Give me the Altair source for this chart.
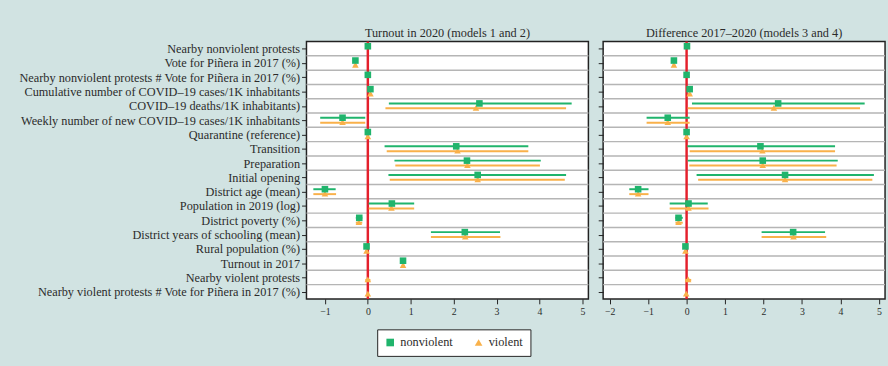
import json
import altair as alt
import pandas as pd

labels = [
    "Nearby nonviolent protests",
    "Vote for Piñera in 2017 (%)",
    "Nearby nonviolent protests # Vote for Piñera in 2017 (%)",
    "Cumulative number of COVID–19 cases/1K inhabitants",
    "COVID–19 deaths/1K inhabitants)",
    "Weekly number of new COVID–19 cases/1K inhabitants",
    "Quarantine (reference)",
    "Transition",
    "Preparation",
    "Initial opening",
    "District age (mean)",
    "Population in 2019 (log)",
    "District poverty (%)",
    "District years of schooling (mean)",
    "Rural population (%)",
    "Turnout in 2017",
    "Nearby violent protests",
    "Nearby violent protests # Vote for Piñera in 2017 (%)",
]

# Turnout in 2020 - nonviolent (model 1)
m1_est = [0.00, -0.29, 0.00, 0.06, 2.60, -0.59, 0.00, 2.06, 2.31, 2.56, -1.00, 0.56, -0.20, 2.26, -0.03, 0.82, None, None]
m1_lo = [-0.03, -0.33, -0.02, 0.02, 0.49, -1.11, 0.00, 0.39, 0.62, 0.48, -1.27, 0.02, -0.28, 1.47, -0.06, 0.79, None, None]
m1_hi = [0.03, -0.25, 0.02, 0.10, 4.75, -0.06, 0.00, 3.74, 4.03, 4.62, -0.75, 1.08, -0.13, 3.08, 0.00, 0.86, None, None]
# Turnout in 2020 - violent (model 2)
m2_est = [None, -0.29, None, 0.06, 2.52, -0.59, 0.00, 2.09, 2.32, 2.56, -1.00, 0.55, -0.21, 2.27, -0.03, 0.82, 0.00, 0.00]
m2_lo = [None, -0.33, None, 0.02, 0.41, -1.11, 0.00, 0.44, 0.64, 0.51, -1.27, 0.02, -0.28, 1.47, -0.06, 0.79, -0.06, -0.02]
m2_hi = [None, -0.25, None, 0.10, 4.62, -0.06, 0.00, 3.74, 4.01, 4.59, -0.74, 1.08, -0.13, 3.09, 0.00, 0.86, 0.06, 0.02]
# Difference 2017-2020 - nonviolent (model 3)
m3_est = [0.01, -0.33, 0.00, 0.08, 2.38, -0.49, 0.00, 1.92, 1.98, 2.56, -1.26, 0.05, -0.21, 2.77, -0.03, None, None, None]
m3_lo = [-0.02, -0.37, -0.02, 0.04, 0.14, -1.04, 0.00, 0.02, 0.03, 0.26, -1.49, -0.44, -0.29, 1.95, -0.06, None, None, None]
m3_hi = [0.04, -0.29, 0.02, 0.12, 4.63, 0.08, 0.00, 3.86, 3.93, 4.87, -0.99, 0.55, -0.10, 3.60, 0.00, None, None, None]
# Difference 2017-2020 - violent (model 4)
m4_est = [None, -0.33, None, 0.08, 2.27, -0.49, 0.00, 1.97, 1.98, 2.56, -1.26, 0.05, -0.21, 2.78, -0.03, None, 0.04, -0.01]
m4_lo = [None, -0.37, None, 0.04, 0.03, -1.04, 0.00, 0.08, 0.07, 0.30, -1.49, -0.44, -0.29, 1.95, -0.06, None, -0.04, -0.04]
m4_hi = [None, -0.29, None, 0.12, 4.51, 0.08, 0.00, 3.86, 3.90, 4.83, -0.99, 0.57, -0.10, 3.63, 0.00, None, 0.12, 0.02]

groups = ["nonviolent", "violent"]
colors = ["#20b46c", "#f9b14a"]
shapes = ["square", "triangle-up"]

FONT = "Liberation Serif"
TXT = "#2b2b2b"


def frame(est, lo, hi, group):
    rows = []
    for i, (e, l, h) in enumerate(zip(est, lo, hi)):
        if e is None:
            continue
        rows.append({"row": i + 1, "est": e, "lo": l, "hi": h, "group": group})
    return pd.DataFrame(rows)


grid_df = pd.DataFrame({"row": [i + 0.5 for i in range(1, len(labels))]})
zero_df = pd.DataFrame({"x": [0]})

label_expr = "[" + ",".join(json.dumps(l) for l in labels) + "][datum.value - 1]"

color_scale = alt.Scale(domain=groups, range=colors)
shape_scale = alt.Scale(domain=groups, range=shapes)


def panel(title, nv, vi, domain, ticks, show_labels):
    xs = alt.Scale(domain=domain, nice=False, zero=False)
    ys = alt.Scale(domain=[0.5, len(labels) + 0.5], reverse=True, nice=False, zero=False)
    yaxis = alt.Axis(
        values=list(range(1, len(labels) + 1)),
        labelExpr=label_expr,
        labels=show_labels,
        labelOverlap=False,
        title=None,
        grid=False,
        domain=False,
        tickSize=5,
        tickColor="#222",
        labelFont=FONT,
        labelFontSize=12.5,
        labelColor=TXT,
        labelPadding=2,
        labelLimit=400,
    )
    xaxis = alt.Axis(
        values=ticks,
        format="d",
        title=None,
        grid=False,
        domain=False,
        tickSize=5,
        tickColor="#222",
        labelFont=FONT,
        labelFontSize=10,
        labelColor=TXT,
        labelPadding=3,
    )
    Y = alt.Y("row:Q", scale=ys, axis=yaxis)
    grid = alt.Chart(grid_df).mark_rule(color="#b5b5b5", strokeWidth=1.5).encode(y=Y)
    zero = alt.Chart(zero_df).mark_rule(color="#e4202c", strokeWidth=2.5).encode(
        x=alt.X("x:Q", scale=xs, axis=xaxis)
    )
    ci_nv = alt.Chart(nv).mark_rule(color=colors[0], strokeWidth=2, yOffset=-2.5).encode(
        x=alt.X("lo:Q", scale=xs, axis=xaxis), x2="hi:Q", y=Y
    )
    ci_vi = alt.Chart(vi).mark_rule(color=colors[1], strokeWidth=2, yOffset=2.5).encode(
        x=alt.X("lo:Q", scale=xs, axis=xaxis), x2="hi:Q", y=Y
    )
    legend = alt.Legend(
        title=None,
        orient="none",
        direction="horizontal",
        legendX=72,
        legendY=293,
        fillColor="white",
        strokeColor="#222",
        padding=7,
        symbolSize=60,
        symbolStrokeWidth=0,
        labelFont=FONT,
        labelFontSize=12.5,
        labelColor=TXT,
        columnPadding=20,
        symbolOpacity=1,
    )
    pt_vi = alt.Chart(vi).mark_point(filled=True, size=45, opacity=1, yOffset=2).encode(
        x=alt.X("est:Q", scale=xs, axis=xaxis),
        y=Y,
        color=alt.Color("group:N", scale=color_scale, legend=legend),
        shape=alt.Shape("group:N", scale=shape_scale, legend=legend),
    )
    pt_nv = alt.Chart(nv).mark_point(filled=True, size=45, opacity=1, yOffset=-2.5).encode(
        x=alt.X("est:Q", scale=xs, axis=xaxis),
        y=Y,
        color=alt.Color("group:N", scale=color_scale, legend=legend),
        shape=alt.Shape("group:N", scale=shape_scale, legend=legend),
    )
    return alt.layer(grid, zero, ci_vi, ci_nv, pt_vi, pt_nv).properties(
        width=287,
        height=262,
        title=alt.TitleParams(title, font=FONT, fontSize=12.5, fontWeight="normal", color=TXT, offset=1),
    )


left = panel(
    "Turnout in 2020 (models 1 and 2)",
    frame(m1_est, m1_lo, m1_hi, "nonviolent"),
    frame(m2_est, m2_lo, m2_hi, "violent"),
    [-1.43, 5.14],
    [-1, 0, 1, 2, 3, 4, 5],
    True,
)
right = panel(
    "Difference 2017–2020 (models 3 and 4)",
    frame(m3_est, m3_lo, m3_hi, "nonviolent"),
    frame(m4_est, m4_lo, m4_hi, "violent"),
    [-2.17, 5.16],
    [-2, -1, 0, 1, 2, 3, 4, 5],
    False,
)

chart = (
    alt.hconcat(left, right, spacing=6)
    .resolve_scale(x="independent")
    .properties(background="#d1e3e2", padding={"left": 18, "right": 1, "top": 23, "bottom": 6})
    .configure_view(stroke="#222", strokeWidth=1.5, fill="white")
    .configure_axisY(labelOverlap=False)
)

chart.save("out.html", embed_options={"renderer": "svg", "actions": False})
